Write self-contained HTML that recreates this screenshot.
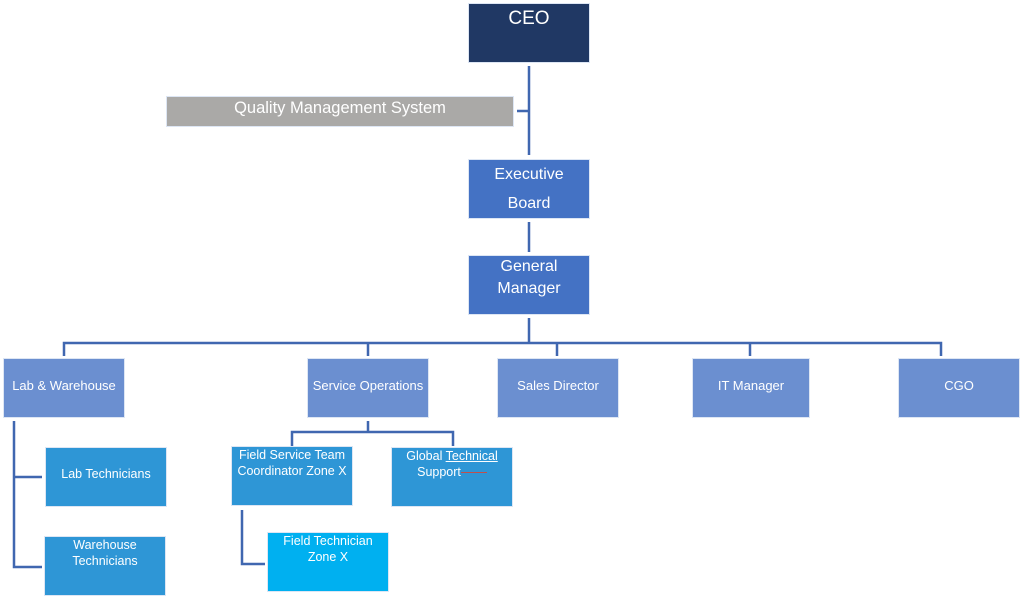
<!DOCTYPE html>
<html><head><style>
body{margin:0;width:1024px;height:599px;background:#fff;position:relative;overflow:hidden;font-family:"Liberation Sans",sans-serif;}
.b{position:absolute;color:#fff;text-align:center;box-sizing:border-box;border:1px solid #dde6f4;}
.l1{background:#4472c4;font-size:16px;line-height:26px;padding-top:2px}
.l2{background:#6b8fd0;font-size:13px;display:flex;align-items:center;justify-content:center;padding-bottom:6px}
.l3{background:#2e96d6;font-size:12.5px;line-height:16px}
</style></head><body>
<svg width="1024" height="599" style="position:absolute;left:0;top:0" fill="none" stroke="#4067b0" stroke-width="2.5">
<path d="M529 66V155M517 111H529M529 222V252M529 318V343M64 356V343H941V356M368 343V356M557 343V356M750 343V356"/>
<path d="M14 421V567H42M14 477H42"/>
<path d="M368 421V432M292 446V432H453V446"/>
<path d="M242 510V564H265"/>
</svg>
<div class="b" style="left:468px;top:3px;width:122px;height:60px;background:#203864;font-size:19px;padding-top:4px">CEO</div>
<div class="b" style="left:166px;top:96px;width:348px;height:31px;background:#aaa9a7;font-size:16.5px;line-height:22px">Quality Management System</div>
<div class="b l1" style="left:468px;top:159px;width:122px;height:60px;line-height:29px;padding-top:0">Executive<br>Board</div>
<div class="b l1" style="left:468px;top:255px;width:122px;height:60px;line-height:22px;padding-top:0">General<br>Manager</div>
<div class="b l2" style="left:3px;top:358px;width:122px;height:60px">Lab &amp; Warehouse</div>
<div class="b l2" style="left:307px;top:358px;width:122px;height:60px">Service Operations</div>
<div class="b l2" style="left:497px;top:358px;width:122px;height:60px">Sales Director</div>
<div class="b l2" style="left:692px;top:358px;width:118px;height:60px">IT Manager</div>
<div class="b l2" style="left:898px;top:358px;width:122px;height:60px">CGO</div>
<div class="b l3" style="left:45px;top:447px;width:122px;height:60px;display:flex;align-items:center;justify-content:center;padding-bottom:6px">Lab Technicians</div>
<div class="b l3" style="left:44px;top:536px;width:122px;height:60px">Warehouse<br>Technicians</div>
<div class="b l3" style="left:231px;top:446px;width:122px;height:60px">Field Service Team<br>Coordinator Zone X</div>
<div class="b l3" style="left:391px;top:447px;width:122px;height:60px">Global <u>Technical</u><br>Support<span style="display:inline-block;width:26px;border-bottom:1px solid #c0504d;vertical-align:3px"></span></div>
<div class="b l3" style="left:267px;top:532px;width:122px;height:60px;background:#00b0f0">Field Technician<br>Zone X</div>
</body></html>
